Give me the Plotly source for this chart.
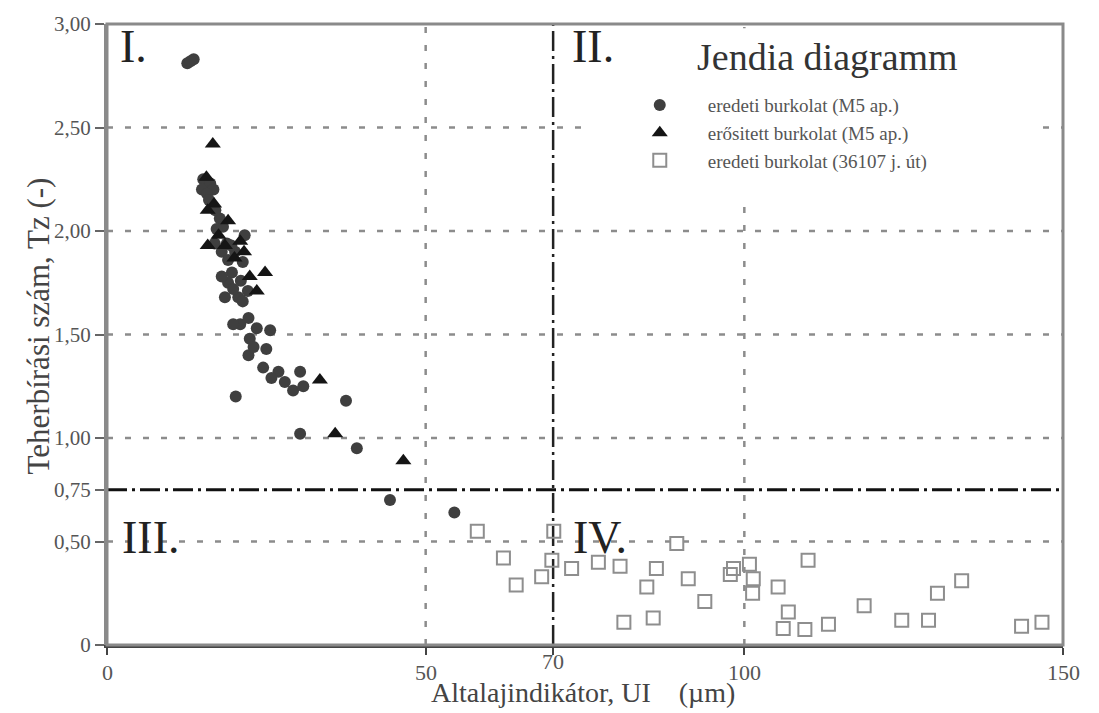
import plotly.graph_objects as go

# ---------------- data ----------------
m5_orig_x = [12.6, 13.6, 13.1,
             15.1, 16.2, 14.9, 16.7, 15.7, 17.7, 18.2, 17.2, 16.9, 18.8, 21.6, 18.0, 20.1,
             19.0, 21.3, 19.6, 19.0, 18.5, 20.6, 22.1, 21.3, 19.8,
             16.0, 17.0, 19.5, 18.0, 21.0,
             20.9, 22.2, 19.8, 23.5, 25.6, 22.4, 22.2, 25.0, 23.0,
             24.5, 26.9, 25.8, 27.9, 29.2, 30.8, 30.3,
             20.2, 37.5, 30.3, 39.2, 44.4, 54.5]
m5_orig_y = [2.81, 2.83, 2.82,
             2.25, 2.23, 2.20, 2.20, 2.18, 2.06, 2.02, 2.01, 1.94, 1.94, 1.98, 1.90, 1.90,
             1.86, 1.85, 1.80, 1.75, 1.68, 1.68, 1.71, 1.66, 1.72,
             2.15, 2.10, 1.93, 1.78, 1.76,
             1.55, 1.58, 1.55, 1.53, 1.52, 1.48, 1.40, 1.43, 1.44,
             1.34, 1.32, 1.29, 1.27, 1.23, 1.25, 1.32,
             1.20, 1.18, 1.02, 0.95, 0.70, 0.64]

m5_strong_x = [16.6, 15.6, 16.8, 15.8, 19.0, 15.8, 20.9, 18.5, 22.4, 24.8, 23.5, 20.0,
               17.5, 21.5, 33.4, 35.8, 46.5]
m5_strong_y = [2.42, 2.26, 2.13, 2.10, 2.05, 1.93, 1.95, 1.93, 1.78, 1.80, 1.71, 1.87,
               1.98, 1.90, 1.28, 1.02, 0.89]

road_x = [58.1, 62.2, 64.2, 68.2, 69.8, 70.1, 72.9, 77.1, 80.5, 86.2, 84.7, 81.1, 85.7,
          89.4, 91.2, 93.8, 97.8, 98.3, 100.8, 101.4, 101.3, 105.3, 110.0, 106.9, 106.1,
          109.5, 113.2, 118.8, 124.7, 128.9, 130.3, 134.1, 143.5, 146.7]
road_y = [0.55, 0.42, 0.29, 0.33, 0.41, 0.55, 0.37, 0.40, 0.38, 0.37, 0.28, 0.11, 0.13,
          0.49, 0.32, 0.21, 0.34, 0.37, 0.39, 0.32, 0.25, 0.28, 0.41, 0.16, 0.08,
          0.075, 0.10, 0.19, 0.12, 0.12, 0.25, 0.31, 0.09, 0.11]

series_names = ["eredeti burkolat (M5 ap.)", "erősitett burkolat (M5 ap.)",
                "eredeti burkolat (36107 j. út)"]

y_tickvals = [0, 0.5, 0.75, 1.0, 1.5, 2.0, 2.5, 3.0]
y_ticktext = ["0", "0,50", "0,75", "1,00", "1,50", "2,00", "2,50", "3,00"]
x_tickvals = [0, 50, 70, 100, 150]
x_ticktext = ["0", "50", "70", "100", "150"]

grid_y = [0.5, 1.0, 1.5, 2.0, 2.5]
grid_x = [50, 100]
limit_x = 70
limit_y = 0.75

quadrants = [("I.", 1.7, 2.89), ("II.", 72.6, 2.89), ("III.", 2.0, 0.52), ("IV.", 72.8, 0.52)]
title_text = "Jendia diagramm"

SERIF = "Liberation Serif"

fig = go.Figure()
fig.add_trace(go.Scatter(x=m5_orig_x, y=m5_orig_y, mode="markers", name=series_names[0],
                         marker=dict(symbol="circle", size=12, color="#3f3f3f")))
fig.add_trace(go.Scatter(x=m5_strong_x, y=m5_strong_y, mode="markers", name=series_names[1],
                         marker=dict(symbol="triangle-up", size=14, color="#151515")))
fig.add_trace(go.Scatter(x=road_x, y=road_y, mode="markers", name=series_names[2],
                         marker=dict(symbol="square-open", size=13, color="#8e8e8e",
                                     line=dict(width=2, color="#8e8e8e"))))

shapes = []
grid_style = dict(color="#8c8c8c", width=2.5, dash="6px,12px")
for gy in grid_y:
    shapes.append(dict(type="line", xref="x", yref="y", x0=0, x1=150, y0=gy, y1=gy,
                       line=grid_style, layer="below"))
for gx in grid_x:
    shapes.append(dict(type="line", xref="x", yref="y", x0=gx, x1=gx, y0=0, y1=3,
                       line=grid_style, layer="below"))
shapes.append(dict(type="line", xref="x", yref="y", x0=limit_x, x1=limit_x, y0=0, y1=3,
                   line=dict(color="#222", width=2.5, dash="20px,5px,3px,5px"), layer="below"))
shapes.append(dict(type="line", xref="x", yref="y", x0=0, x1=150, y0=limit_y, y1=limit_y,
                   line=dict(color="#111", width=3, dash="20px,5px,3px,5px"), layer="below"))
# white legend/title box
shapes.append(dict(type="rect", xref="x", yref="y", x0=76, x1=145.6, y0=2.14, y1=2.98,
                   fillcolor="white", line=dict(width=0), layer="below"))
# frame
shapes.append(dict(type="rect", xref="paper", yref="paper", x0=0, x1=1, y0=0, y1=1,
                   line=dict(color="#8a8a8a", width=3), layer="above"))

annotations = []
for txt, qx, qy in quadrants:
    annotations.append(dict(text=txt, x=qx, y=qy, xref="x", yref="y", xanchor="left",
                            yanchor="middle", showarrow=False,
                            font=dict(family=SERIF, size=46, color="#222")))
annotations.append(dict(text=title_text, x=113.1, y=2.84, xref="x", yref="y",
                        xanchor="center", yanchor="middle", showarrow=False,
                        font=dict(family=SERIF, size=38, color="#333")))
for v, t in zip(x_tickvals, x_ticktext):
    annotations.append(dict(text=t, x=v, y=0, xref="x", yref="y", xanchor="center",
                            yanchor="middle", yshift=-(16 if v == 70 else 27),
                            showarrow=False,
                            font=dict(family=SERIF, size=22, color="#555")))
annotations.append(dict(text="Altalajindikátor, UI&nbsp;&nbsp;&nbsp;&nbsp;(µm)", x=0.5, y=0,
                        xref="paper", yref="paper", xanchor="center", yanchor="middle",
                        xshift=-2, yshift=-47, showarrow=False,
                        font=dict(family=SERIF, size=28, color="#444")))
annotations.append(dict(text="Teherbírási szám, Tz (-)", x=0, y=0.513, xref="paper",
                        yref="paper", xanchor="center", yanchor="middle", xshift=-69,
                        textangle=-90, showarrow=False,
                        font=dict(family=SERIF, size=31, color="#444")))

fig.update_layout(
    width=1099, height=713,
    margin=dict(l=107, r=36, t=15, b=68),
    paper_bgcolor="white", plot_bgcolor="white",
    shapes=shapes, annotations=annotations,
    showlegend=True,
    legend=dict(x=0.528, y=0.90, xanchor="left", yanchor="top",
                bgcolor="rgba(0,0,0,0)", itemwidth=86,
                font=dict(family=SERIF, size=19, color="#555")),
    xaxis=dict(range=[0, 150], tickvals=x_tickvals, ticktext=x_ticktext,
               showticklabels=False, ticks="outside", ticklen=7, tickwidth=2,
               tickcolor="#444", showgrid=False, zeroline=False,
               showline=True, linecolor="#444", linewidth=3),
    yaxis=dict(range=[0, 3], tickvals=y_tickvals, ticktext=y_ticktext,
               ticks="outside", ticklen=9, tickwidth=2, tickcolor="#666",
               showgrid=False, zeroline=False, showline=True, linecolor="#8a8a8a",
               linewidth=3, tickfont=dict(family=SERIF, size=21, color="#555")),
)

fig.write_html("out.html")
